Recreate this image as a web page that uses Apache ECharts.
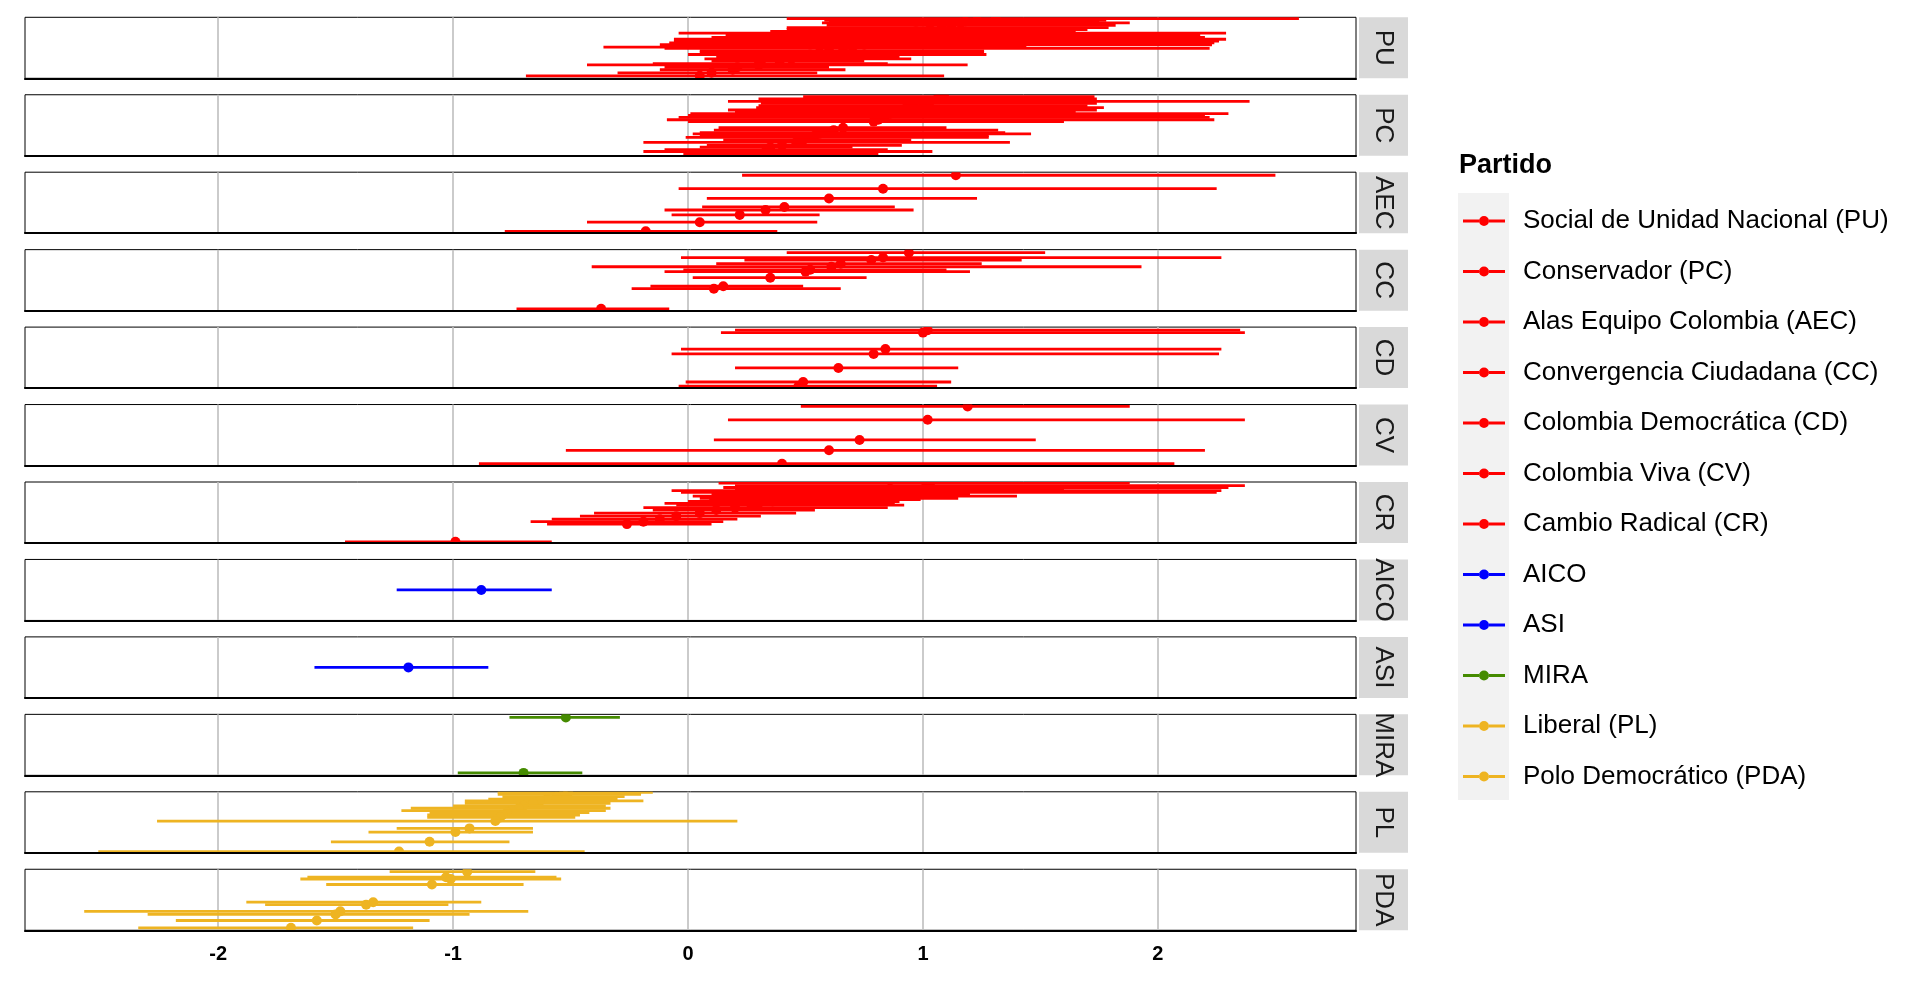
<!DOCTYPE html>
<html><head><meta charset="utf-8">
<script src="https://cdn.jsdelivr.net/npm/echarts@6/dist/echarts.min.js"></script>
<style>html,body{margin:0;padding:0;background:#fff}#c{width:1920px;height:985px}</style>
</head><body><div id="c"></div>
<script>
// ---- Data ----
const partyCodes = ['PU','PC','AEC','CC','CD','CV','CR','AICO','ASI','MIRA','PL','PDA'];
const partyNames = ['Social de Unidad Nacional (PU)','Conservador (PC)','Alas Equipo Colombia (AEC)','Convergencia Ciudadana (CC)','Colombia Democrática (CD)','Colombia Viva (CV)','Cambio Radical (CR)','AICO','ASI','MIRA','Liberal (PL)','Polo Democrático (PDA)'];
const partyColors = ['#FF0000','#FF0000','#FF0000','#FF0000','#FF0000','#FF0000','#FF0000','#0000FF','#0000FF','#458B00','#EEB422','#EEB422'];
const xTicks = [-2,-1,0,1,2];

// pos = vertical position inside the facet (0 bottom .. 100 top); est = point; lo/hi = interval
const PU_pos = [98,95,93,91,87,83,80,77,74,71,67,64,61,58,55,51,49,45,42,39,35,32,28,24,22,18,14,9,4];
const PU_est = [1.31,1.23,1.18,1.16,1.12,1.08,1.03,0.97,0.95,0.92,0.88,0.83,0.80,0.78,0.75,0.70,0.66,0.60,0.56,0.52,0.47,0.44,0.39,0.31,0.30,0.21,0.19,0.10,0.05];
const PU_lo  = [0.42,0.58,0.60,0.57,0.59,0.42,0.42,0.35,-0.04,0.16,0.10,-0.06,-0.06,-0.08,-0.12,-0.36,-0.10,0.05,0.05,0.00,0.12,0.07,0.10,-0.15,-0.43,-0.10,-0.12,-0.30,-0.69];
const PU_hi  = [2.60,1.78,1.75,1.88,1.82,1.79,1.70,1.65,2.29,2.18,2.20,2.29,2.26,2.24,2.23,1.44,2.22,1.26,1.26,1.27,0.90,0.95,0.75,0.85,1.19,0.60,0.67,0.55,1.09];

const PC_pos = [97,93,89,86,82,79,75,72,69,66,63,59,56,46,42,38,36,33,30,26,22,17,14,10,7,3];
const PC_est = [1.09,1.06,1.03,1.00,0.96,0.93,0.91,0.89,0.86,0.84,0.82,0.81,0.79,0.66,0.62,0.58,0.56,0.54,0.51,0.49,0.46,0.40,0.35,0.34,0.33,0.30];
const PC_lo  = [0.49,0.30,0.17,0.31,0.30,0.29,0.17,0.20,0.01,0.00,-0.04,-0.09,0.00,0.13,0.11,0.05,0.02,0.05,-0.01,0.15,-0.19,0.08,0.05,-0.10,-0.19,-0.02];
const PC_hi  = [1.73,1.74,2.39,1.74,1.70,1.77,1.74,1.65,2.30,2.20,2.22,2.24,1.60,1.10,1.32,1.35,1.46,1.28,1.28,0.95,1.37,0.91,0.70,0.85,1.04,0.81];

const AEC_pos = [95,73,57,43,38,30,18,3];
const AEC_est = [1.14,0.83,0.60,0.41,0.33,0.22,0.05,-0.18];
const AEC_lo  = [0.23,-0.04,0.08,0.06,-0.10,-0.07,-0.43,-0.78];
const AEC_hi  = [2.50,2.25,1.23,0.88,0.96,0.56,0.55,0.38];

const CC_pos = [95,87,83,77,72,67,64,54,40,36,3];
const CC_est = [0.94,0.83,0.78,0.65,0.61,0.52,0.50,0.35,0.15,0.11,-0.37];
const CC_lo  = [0.42,-0.03,0.24,0.12,-0.41,-0.02,-0.10,0.02,-0.16,-0.24,-0.73];
const CC_hi  = [1.52,2.27,1.42,1.25,1.93,1.10,1.20,0.76,0.49,0.65,-0.08];

const CD_pos = [95,91,64,56,33,10,3];
const CD_est = [1.02,1.00,0.84,0.79,0.64,0.49,0.47];
const CD_lo  = [0.20,0.14,-0.03,-0.07,0.20,-0.01,-0.04];
const CD_hi  = [2.35,2.37,2.27,2.26,1.15,1.12,1.06];

const CV_pos = [97,75,42,25,3];
const CV_est = [1.19,1.02,0.73,0.60,0.40];
const CV_lo  = [0.48,0.17,0.11,-0.52,-0.89];
const CV_hi  = [1.88,2.37,1.48,2.20,2.07];

const CR_pos = [98,94,91,89,86,83,80,77,73,71,68,65,62,58,54,49,44,39,35,31,2];
const CR_est = [1.03,1.02,1.01,0.86,0.80,0.79,0.62,0.60,0.50,0.45,0.36,0.30,0.27,0.20,0.12,0.05,-0.05,-0.12,-0.19,-0.26,-0.99];
const CR_lo  = [0.13,0.20,0.15,0.20,-0.07,-0.03,0.10,0.02,0.05,0.09,0.00,-0.10,-0.05,-0.19,-0.15,-0.40,-0.46,-0.58,-0.67,-0.60,-1.46];
const CR_hi  = [1.88,2.37,2.30,1.60,2.27,2.25,1.20,1.40,1.15,0.99,0.90,0.88,0.92,0.85,0.54,0.46,0.31,0.21,0.15,0.10,-0.58];

const AICO_pos = [50];
const AICO_est = [-0.88];
const AICO_lo  = [-1.24];
const AICO_hi  = [-0.58];

const ASI_pos = [50];
const ASI_est = [-1.19];
const ASI_lo  = [-1.59];
const ASI_hi  = [-0.85];

const MIRA_pos = [95,4];
const MIRA_est = [-0.52,-0.70];
const MIRA_lo  = [-0.76,-0.98];
const MIRA_hi  = [-0.29,-0.45];

const PL_pos = [99,96,92,88,85,81,77,73,69,66,62,58,52,40,34,18,2];
const PL_est = [-0.51,-0.53,-0.56,-0.60,-0.63,-0.66,-0.70,-0.72,-0.75,-0.77,-0.79,-0.80,-0.82,-0.93,-0.99,-1.10,-1.23];
const PL_lo  = [-0.81,-0.81,-0.79,-0.85,-0.95,-0.95,-1.00,-1.18,-1.22,-1.10,-1.11,-1.11,-2.26,-1.24,-1.36,-1.52,-2.51];
const PL_hi  = [-0.15,-0.20,-0.27,-0.30,-0.19,-0.33,-0.35,-0.33,-0.35,-0.42,-0.46,-0.48,0.21,-0.66,-0.66,-0.76,-0.44];

const PDA_pos = [96,87,84,75,46,42,31,26,16,4];
const PDA_est = [-0.94,-1.03,-1.01,-1.09,-1.34,-1.37,-1.48,-1.50,-1.58,-1.69];
const PDA_lo  = [-1.27,-1.62,-1.65,-1.54,-1.88,-1.80,-2.57,-2.30,-2.18,-2.34];
const PDA_hi  = [-0.65,-0.56,-0.54,-0.70,-0.88,-1.02,-0.68,-0.93,-1.10,-1.17];

// ---- Build ----
const facetData = [
  [PU_pos,PU_est,PU_lo,PU_hi],[PC_pos,PC_est,PC_lo,PC_hi],[AEC_pos,AEC_est,AEC_lo,AEC_hi],
  [CC_pos,CC_est,CC_lo,CC_hi],[CD_pos,CD_est,CD_lo,CD_hi],[CV_pos,CV_est,CV_lo,CV_hi],
  [CR_pos,CR_est,CR_lo,CR_hi],[AICO_pos,AICO_est,AICO_lo,AICO_hi],[ASI_pos,ASI_est,ASI_lo,ASI_hi],
  [MIRA_pos,MIRA_est,MIRA_lo,MIRA_hi],[PL_pos,PL_est,PL_lo,PL_hi],[PDA_pos,PDA_est,PDA_lo,PDA_hi]
];

const FONT = '"Liberation Sans", Arial, Helvetica, sans-serif';
const LEFT = 25, WIDTH = 1331, TOP0 = 17.3, STEP = 77.45, H = 61;
const XMIN = -2.822, XMAX = 2.843;
const N = partyCodes.length;

const grids = [], xAxes = [], yAxes = [], series = [], graphics = [];

for (let i = 0; i < N; i++) {
  const top = TOP0 + STEP * i;
  grids.push({left: LEFT, width: WIDTH, top: top, height: H, show: true,
    borderColor: '#000', borderWidth: 1, backgroundColor: '#fff',
    containLabel: false, outerBoundsMode: 'none'});
  const last = i === N - 1;
  xAxes.push({gridIndex: i, type: 'value', min: XMIN, max: XMAX, z: 5,
    splitLine: {show: false},
    axisLine: {show: true, onZero: false, lineStyle: {color: '#000', width: 2.2}},
    axisTick: {show: false},
    axisLabel: last ? {show: true, customValues: xTicks, fontSize: 20, fontWeight: 'bold', color: '#000', fontFamily: FONT, margin: 14,
      formatter: v => (Math.abs(v - Math.round(v)) < 1e-9 ? String(Math.round(v)) : '')} : {show: false}
  });
  yAxes.push({gridIndex: i, type: 'value', min: 0, max: 100, show: false});

  // gridlines
  series.push({type: 'line', name: '_grid' + i, xAxisIndex: i, yAxisIndex: i, data: [], silent: true,
    markLine: {silent: true, symbol: 'none', z: 1, animation: false, label: {show: false},
      lineStyle: {color: '#bebebe', width: 1.6, type: 'solid'}, emphasis: {disabled: true},
      data: xTicks.map(v => ({xAxis: v}))}
  });

  const [pos, est, lo, hi] = facetData[i];
  const data = pos.map((p, k) => [p, est[k], lo[k], hi[k]]);
  series.push({type: 'custom', name: partyNames[i], xAxisIndex: i, yAxisIndex: i, z: 2,
    clip: true, color: partyColors[i], itemStyle: {color: partyColors[i]},
    encode: {x: [1, 2, 3], y: 0}, data: data,
    renderItem: (params, api) => {
      const y = api.value(0);
      const p1 = api.coord([api.value(2), y]);
      const p2 = api.coord([api.value(3), y]);
      const pc = api.coord([api.value(1), y]);
      const c = api.visual('color');
      return {type: 'group', children: [
        {type: 'line', shape: {x1: p1[0], y1: p1[1], x2: p2[0], y2: p2[1]}, style: {stroke: c, lineWidth: 2.8}},
        {type: 'circle', shape: {cx: pc[0], cy: pc[1], r: 5}, style: {fill: c}}
      ]};
    }
  });

  // strip
  graphics.push({type: 'rect', left: 1359, top: top, shape: {x: 0, y: 0, width: 49, height: H}, style: {fill: '#d9d9d9'}, silent: true, z: 1});
  graphics.push({type: 'text', x: 1383.5, y: top + H / 2, rotation: -Math.PI / 2, silent: true, z: 2,
    style: {text: partyCodes[i], fill: '#1a1a1a', font: '26px ' + FONT, align: 'center', verticalAlign: 'middle', textAlign: 'center', textVerticalAlign: 'middle'}});
}

// legend key background
graphics.push({type: 'rect', left: 1458, top: 193, shape: {x: 0, y: 0, width: 51, height: 607}, style: {fill: '#f2f2f2'}, silent: true, z: -1});

const iconPath = 'path://M0,3.5L16,3.5L16,6.5L0,6.5Z M26,3.5L42,3.5L42,6.5L26,6.5Z M16,5A5,5 0 1 1 26,5A5,5 0 1 1 16,5Z';

const option = {
  animation: false,
  textStyle: {fontFamily: FONT},
  title: {text: 'Partido', left: 1459, top: 152.5, padding: 0,
    textStyle: {fontSize: 27, fontWeight: 'bold', color: '#000', fontFamily: FONT}},
  legend: {orient: 'vertical', left: 1463, top: 206, padding: 0, data: partyNames,
    icon: iconPath, itemWidth: 42, itemHeight: 10, itemGap: 20.5, selectedMode: false,
    textStyle: {fontSize: 26, color: '#000', fontFamily: FONT, lineHeight: 30, padding: [0, 0, 0, 13]}},
  grid: grids, xAxis: xAxes, yAxis: yAxes, series: series, graphic: graphics
};

const chart = echarts.init(document.getElementById('c'), null, {renderer: 'canvas'});
chart.setOption(option);
</script></body></html>
